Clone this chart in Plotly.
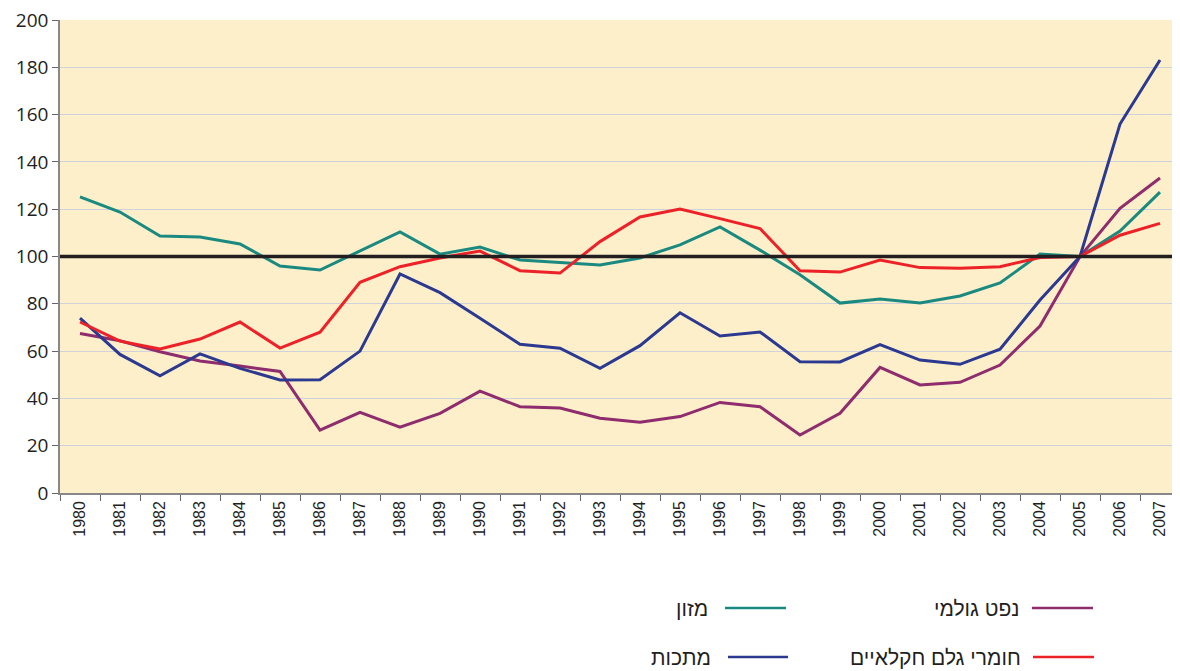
import plotly.graph_objects as go

years = [str(y) for y in range(1980, 2008)]

food = [125.2, 118.8, 108.7, 108.2, 105.3, 96.0, 94.3, 102.3, 110.4, 101.0,
        104.0, 98.5, 97.3, 96.4, 99.4, 104.9, 112.5, 102.7, 92.3, 80.3,
        82.0, 80.3, 83.3, 88.8, 101.0, 100.0, 110.8, 127.2]
agri = [72.3, 64.2, 60.9, 65.1, 72.3, 61.3, 68.0, 89.1, 95.7, 99.4,
        102.3, 94.0, 93.0, 106.3, 116.7, 120.1, 116.0, 111.8, 94.0, 93.4,
        98.5, 95.3, 95.0, 95.7, 99.6, 100.0, 109.0, 114.0]
metals = [73.9, 58.6, 49.6, 58.8, 52.7, 47.8, 47.9, 60.0, 92.6, 84.7,
          73.9, 62.9, 61.2, 52.7, 62.3, 76.2, 66.4, 68.1, 55.5, 55.4,
          62.7, 56.2, 54.4, 60.8, 81.6, 100.0, 156.0, 183.1]
oil = [67.4, 64.4, 59.7, 55.8, 53.7, 51.4, 26.6, 34.1, 27.8, 33.7,
       43.1, 36.5, 35.9, 31.6, 29.9, 32.3, 38.3, 36.5, 24.5, 33.7,
       53.1, 45.7, 46.8, 54.1, 70.6, 100.0, 120.4, 133.2]
base_level = 100

names = ["מזון", "נפט גולמי", "מתכות", "חומרי גלם חקלאיים"]
colors = ["#1a8a80", "#8e2c6d", "#2b3990", "#ec2228"]
series = [food, oil, metals, agri]

fig = go.Figure()
for name, col, vals in zip(names, colors, series):
    fig.add_trace(go.Scatter(x=years, y=vals, mode="lines", name=name,
                             line=dict(color=col, width=3), showlegend=False))

OFF = 8  # page body margin
W, H = 1172, 663
L, R, T, B = 52, 0, 12, 178
pw, ph = W - L - R, H - T - B

def px(x):
    return (x - OFF - L) / pw

def py(y):
    return (H - B - (y - OFF)) / ph

shapes = [dict(type="line", xref="paper", x0=0, x1=1, yref="y", y0=base_level, y1=base_level,
               line=dict(color="#231f20", width=3.5), layer="above")]
annotations = []
legend_items = [
    ("מזון", colors[0], 710, 725, 786, 608),
    ("נפט גולמי", colors[1], 1021, 1032, 1093, 608),
    ("מתכות", colors[2], 713, 728, 788, 657),
    ("חומרי גלם חקלאיים", colors[3], 1023, 1033, 1094, 657),
]
for text, col, tx, lx0, lx1, yy in legend_items:
    shapes.append(dict(type="line", xref="paper", yref="paper",
                       x0=px(lx0), x1=px(lx1), y0=py(yy), y1=py(yy),
                       line=dict(color=col, width=2.5)))
    annotations.append(dict(text=text, xref="paper", yref="paper",
                            x=px(tx), y=py(yy), xanchor="right", yanchor="middle",
                            showarrow=False,
                            font=dict(family="Liberation Sans", size=21, color="#231f20")))

fig.update_layout(
    width=W, height=H,
    margin=dict(l=L, r=R, t=T, b=B),
    paper_bgcolor="white",
    plot_bgcolor="#fdefca",
    shapes=shapes,
    annotations=annotations,
    xaxis=dict(type="category", tickson="boundaries", ticks="outside", ticklen=6,
               tickcolor="#666666", tickangle=-90, showgrid=False,
               showline=True, linecolor="#888888", linewidth=1.5,
               tickfont=dict(family="Liberation Sans", size=16, color="#231f20"),
               range=[-0.5, 27.5]),
    yaxis=dict(range=[0, 200], dtick=20, ticks="outside", ticklen=6,
               tickcolor="#666666", showline=True, linecolor="#888888", linewidth=1.5,
               gridcolor="#cfd2da", gridwidth=1, zeroline=False,
               ticklabeloverflow="allow",
               tickfont=dict(family="Open Sans", size=19, color="#231f20")),
)

fig.write_html("out.html")
